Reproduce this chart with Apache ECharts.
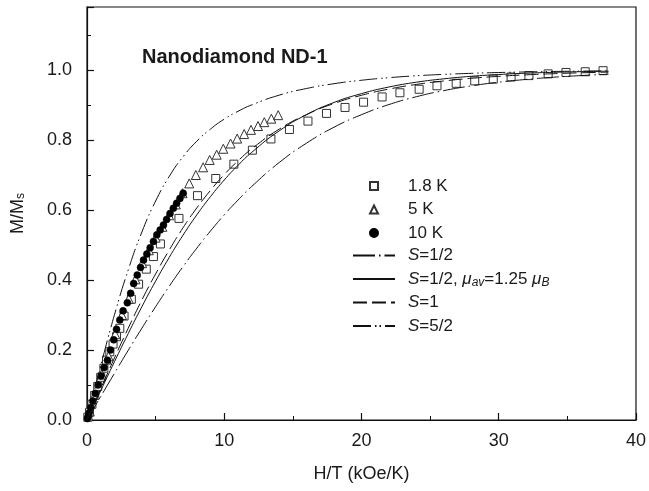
<!DOCTYPE html>
<html>
<head>
<meta charset="utf-8">
<script src="https://cdn.jsdelivr.net/npm/echarts@6/dist/echarts.min.js"></script>
<style>html,body{margin:0;padding:0;background:#fff}#c{width:649px;height:491px}</style>
</head>
<body>
<div id="c"></div>
<script>
// ---- data ----
const xTicks = [0, 10, 20, 30, 40];
const yTicks = [0.0, 0.2, 0.4, 0.6, 0.8, 1.0];

// 1.8 K (open squares)
const h18 = [0.06,0.18,0.36,0.56,0.78,1.00,1.23,1.42,1.66,1.90,2.15,2.39,2.70,3.23,3.76,4.32,4.84,5.35,6.70,8.05,9.38,10.70,12.05,13.40,14.75,16.10,17.45,18.80,20.15,21.50,22.80,24.20,25.50,26.90,28.25,29.60,30.90,32.20,33.60,34.90,36.30,37.60];
const m18 = [0.008,0.022,0.045,0.070,0.096,0.122,0.148,0.171,0.195,0.217,0.238,0.262,0.297,0.345,0.388,0.431,0.467,0.503,0.576,0.641,0.690,0.731,0.771,0.803,0.830,0.854,0.876,0.893,0.908,0.923,0.935,0.945,0.955,0.962,0.969,0.974,0.980,0.984,0.989,0.993,0.995,0.998];

// 5 K (open triangles)
const h5 = [0.20,0.59,1.08,1.57,2.06,2.55,3.04,3.53,4.02,4.51,5.00,5.49,5.98,6.47,6.96,7.45,7.93,8.46,8.94,9.45,9.93,10.46,10.94,11.45,11.95,12.46,12.92,13.43,13.93];
const m5 = [0.025,0.073,0.130,0.182,0.245,0.300,0.346,0.402,0.448,0.485,0.521,0.552,0.585,0.616,0.648,0.676,0.700,0.722,0.743,0.758,0.775,0.790,0.804,0.817,0.829,0.840,0.851,0.861,0.871];

// 10 K (filled circles)
const h10 = [0.03,0.08,0.16,0.28,0.42,0.60,0.80,1.02,1.25,1.49,1.71,1.95,2.15,2.39,2.63,2.94,3.18,3.40,3.66,3.90,4.12,4.36,4.60,4.84,5.09,5.33,5.57,5.80,6.05,6.29,6.53,6.77,7.01];
const m10 = [0.004,0.010,0.021,0.036,0.054,0.076,0.100,0.126,0.150,0.171,0.200,0.229,0.259,0.286,0.312,0.335,0.362,0.390,0.414,0.436,0.457,0.474,0.492,0.510,0.529,0.543,0.557,0.573,0.590,0.605,0.619,0.633,0.648];

// model curves, sampled along H/T
const hCurve = [0,0.5,1,2,3,4,5,6,7,8,9,10,11,12,14,16,18,20,22,24,26,28,30,32,34,36,38];
const curveSHalf   = [0,0.0336,0.0670,0.1335,0.1988,0.2624,0.3238,0.3826,0.4384,0.4910,0.5401,0.5861,0.6282,0.6672,0.7355,0.7911,0.8366,0.8723,0.9013,0.9237,0.9411,0.9546,0.9651,0.9731,0.9794,0.9841,0.9879];
const curveSHalfMu = [0,0.0420,0.0838,0.1664,0.2467,0.3238,0.3968,0.4651,0.5283,0.5861,0.6384,0.6857,0.7276,0.7646,0.8260,0.8725,0.9073,0.9325,0.9514,0.9651,0.9748,0.9820,0.9871,0.9908,0.9934,0.9953,0.9967];
const curveS1      = [0,0.0448,0.0894,0.1772,0.2620,0.3430,0.4174,0.4862,0.5495,0.6059,0.6562,0.7012,0.7402,0.7747,0.8309,0.8728,0.9044,0.9278,0.9455,0.9588,0.9687,0.9762,0.9819,0.9862,0.9895,0.9920,0.9939];
const curveS52     = [0,0.0782,0.1550,0.3005,0.4284,0.5372,0.6257,0.6964,0.7523,0.7965,0.8314,0.8596,0.8819,0.9003,0.9281,0.9472,0.9609,0.9707,0.9780,0.9835,0.9875,0.9905,0.9928,0.9945,0.9958,0.9968,0.9976];

const pointNames = ['1.8 K', '5 K', '10 K'];
const lineNames = ['S=1/2', 'S=1/2, μav=1.25 μB', 'S=1', 'S=5/2'];
const lineLabels = {
  'S=1/2': '{i|S}=1/2',
  'S=1/2, μav=1.25 μB': '{i|S}=1/2, {i|μ}{sub|av}=1.25 {i|μ}{sub|B}',
  'S=1': '{i|S}=1',
  'S=5/2': '{i|S}=5/2'
};

// ---- chart ----
const FONT = '"Liberation Sans", Arial, Helvetica, sans-serif';
const TXT = '#1a1a1a';
const zip = (a, b) => a.map((v, i) => [v, b[i]]);

const chart = echarts.init(document.getElementById('c'), null, {renderer: 'canvas'});
const richText = {
  i: {fontStyle: 'italic', fontSize: 17, fontFamily: FONT, color: TXT, lineHeight: 20},
  sub: {fontSize: 12, fontStyle: 'italic', fontFamily: FONT, color: TXT, verticalAlign: 'bottom', lineHeight: 9}
};

chart.setOption({
  animation: false,
  backgroundColor: '#fff',
  textStyle: {fontFamily: FONT},
  title: {
    text: 'Nanodiamond ND-1', left: 137, top: 42,
    textStyle: {fontSize: 20, fontWeight: 'bold', color: TXT, fontFamily: FONT}
  },
  grid: {left: 87, right: 9, top: 7, bottom: 71, show: true, borderColor: '#111', borderWidth: 1.2, backgroundColor: 'transparent'},
  xAxis: {
    type: 'value', min: 0, max: 40, interval: 10,
    name: 'H/T (kOe/K)', nameLocation: 'middle', nameGap: 45,
    nameTextStyle: {fontSize: 18, color: TXT, fontFamily: FONT},
    axisLine: {onZero: false, lineStyle: {color: '#111', width: 1.2}},
    axisTick: {inside: true, length: 7, lineStyle: {color: '#111', width: 1.2}},
    minorTick: {show: true, splitNumber: 2, length: 4, lineStyle: {color: '#111', width: 1}},
    axisLabel: {fontSize: 18, color: TXT, margin: 12, fontFamily: FONT,
      formatter: v => xTicks.includes(v) ? String(v) : ''},
    splitLine: {show: false}
  },
  yAxis: {
    type: 'value', min: 0, max: 1.18, interval: 0.2,
    name: 'M/M{s|s}', nameLocation: 'middle', nameGap: 60,
    nameTextStyle: {fontSize: 18, color: TXT, fontFamily: FONT,
      rich: {s: {fontSize: 12, color: TXT, fontFamily: FONT, verticalAlign: 'bottom', lineHeight: 9}}},
    axisLine: {onZero: false, lineStyle: {color: '#111', width: 1.2}},
    axisTick: {inside: true, length: 7, lineStyle: {color: '#111', width: 1.2}},
    minorTick: {show: true, splitNumber: 2, length: 4, lineStyle: {color: '#111', width: 1}},
    axisLabel: {fontSize: 18, color: TXT, margin: 15, fontFamily: FONT, showMaxLabel: false,
      formatter: v => {
        const t = yTicks.find(y => Math.abs(y - v) < 1e-6);
        return t === undefined ? '' : t.toFixed(1);
      }},
    splitLine: {show: false}
  },
  legend: [
    {
      data: pointNames, orient: 'vertical', left: 369, top: 176, padding: 0,
      itemWidth: 8, itemHeight: 8, itemGap: 3.5,
      textStyle: {fontSize: 17, color: TXT, fontFamily: FONT, lineHeight: 20, padding: [0, 0, 0, 25]},
      selectedMode: false
    },
    {
      data: lineNames, orient: 'vertical', left: 352, top: 245.5, padding: 0,
      itemWidth: 42, itemHeight: 10, itemGap: 3.5,
      itemStyle: {color: 'rgba(0,0,0,0)', borderColor: 'rgba(0,0,0,0)', borderWidth: 0, opacity: 0},
      formatter: n => lineLabels[n],
      textStyle: {fontSize: 17, color: TXT, fontFamily: FONT, lineHeight: 20, padding: [0, 0, 0, 8], rich: richText},
      selectedMode: false
    }
  ],
  series: [
    {name: '1.8 K', type: 'scatter', symbol: 'rect', symbolSize: 8, z: 3,
     itemStyle: {color: '#fff', borderColor: '#333', borderWidth: 1, opacity: 1},
     data: zip(h18, m18)},
    {name: '5 K', type: 'scatter', symbol: 'triangle', symbolSize: 9, z: 4,
     itemStyle: {color: '#fff', borderColor: '#333', borderWidth: 1, opacity: 1},
     data: zip(h5, m5)},
    {name: '10 K', type: 'scatter', symbol: 'circle', symbolSize: 7, z: 5,
     itemStyle: {color: '#000', borderColor: '#000', borderWidth: 0.5, opacity: 1},
     data: zip(h10, m10)},
    {name: 'S=1/2', type: 'line', smooth: true, symbol: 'none', z: 6,
     lineStyle: {color: '#111', width: 1, type: [22, 4, 1.5, 4]}, itemStyle: {color: '#111'},
     data: zip(hCurve, curveSHalf)},
    {name: 'S=1/2, μav=1.25 μB', type: 'line', smooth: true, symbol: 'none', z: 6,
     lineStyle: {color: '#111', width: 1, type: 'solid'}, itemStyle: {color: '#111'},
     data: zip(hCurve, curveSHalfMu)},
    {name: 'S=1', type: 'line', smooth: true, symbol: 'none', z: 6,
     lineStyle: {color: '#111', width: 1, type: [14, 5]}, itemStyle: {color: '#111'},
     data: zip(hCurve, curveS1)},
    {name: 'S=5/2', type: 'line', smooth: true, symbol: 'none', z: 6,
     lineStyle: {color: '#111', width: 1, type: [18, 4, 1.5, 3, 1.5, 4]}, itemStyle: {color: '#111'},
     data: zip(hCurve, curveS52)}
  ]
});
</script>
</body>
</html>
